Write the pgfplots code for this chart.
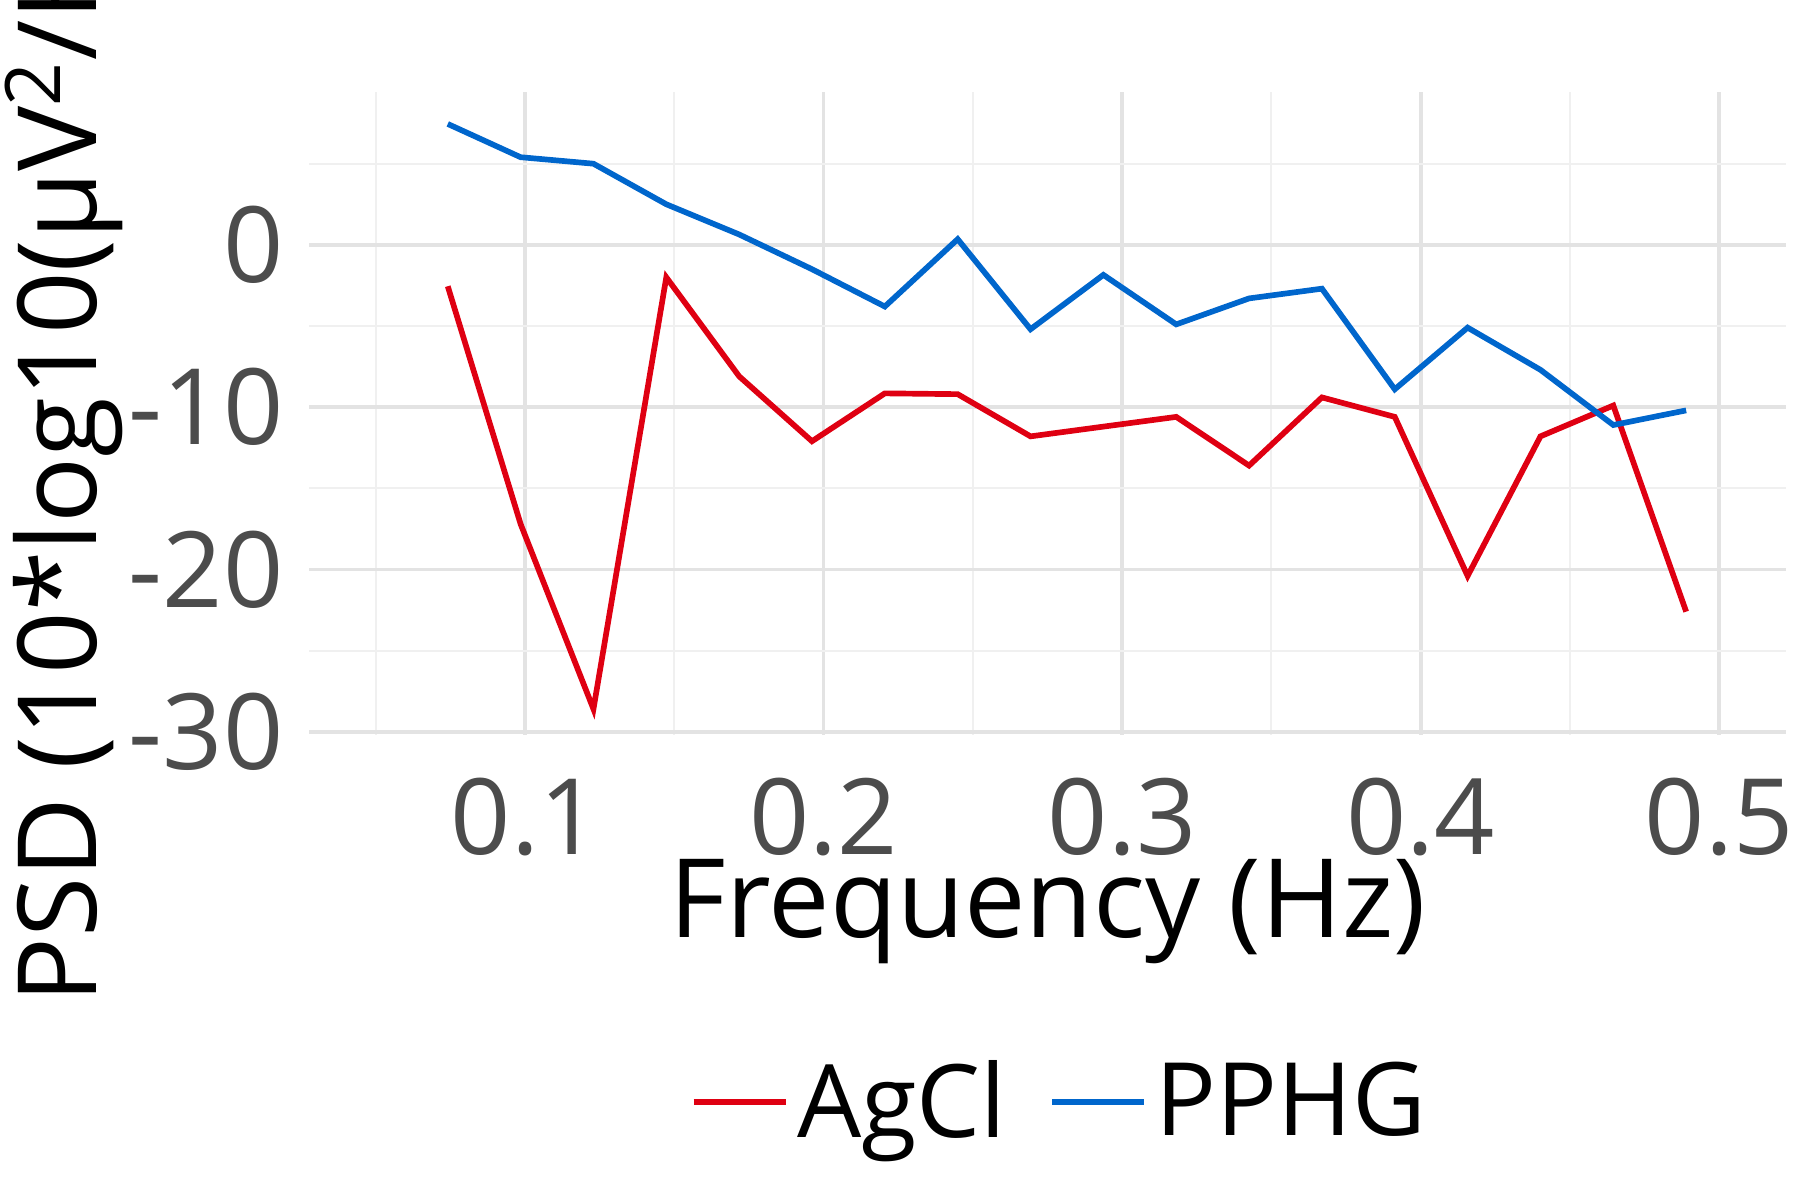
\documentclass[border=0pt]{standalone}
\usepackage{pgfplots}
\pgfplotsset{compat=1.18}
\usepackage{fontspec}
\setmainfont{Open Sans}
\definecolor{cred}{HTML}{DF0012}
\definecolor{cblue}{HTML}{0066CC}
\begin{document}
\begin{tikzpicture}
\path[use as bounding box, clip] (0,0) rectangle (15.6cm,10.4cm);
\begin{axis}[
  at={(2.68cm,4.03cm)}, anchor=south west,
  scale only axis, width=12.8cm, height=5.57cm,
  xmin=0.0277, xmax=0.5224, ymin=-30.2, ymax=9.4,
  xtick={0.1,0.2,0.3,0.4,0.5}, ytick={-30,-20,-10,0},
  minor xtick={0.05,0.15,0.25,0.35,0.45}, minor ytick={-25,-15,-5,5},
  grid=both,
  major grid style={draw=black!11, line width=0.9pt},
  minor grid style={draw=black!6, line width=0.5pt},
  axis line style={draw=none}, tick style={draw=none},
  /pgf/number format/assume math mode=true,
  xticklabel style={font=\fontsize{26}{30}\selectfont, text=black!70, yshift=-0.25cm},
  yticklabel style={font=\fontsize{26}{30}\selectfont, text=black!70, xshift=-0.1cm},
  xticklabel={\pgfmathprintnumber[fixed,precision=1]{\tick}},
  yticklabel={\pgfmathprintnumber{\tick}},
  xlabel={Frequency (Hz)},
  ylabel={PSD (10*log10(µV\textsuperscript{2}/Hz))},
  xlabel style={font=\fontsize{27}{32}\selectfont, at={(axis description cs:0.5,-0.275)}, anchor=center},
  ylabel style={font=\fontsize{27}{32}\selectfont, at={(axis description cs:-0.166,0.5)}, anchor=center, rotate=0},
  legend style={draw=none, fill=none, font=\fontsize{25}{30}\selectfont,
    at={(axis description cs:0.51,-0.571)}, anchor=center,
    /tikz/every even column/.append style={column sep=0.3cm}},
  legend columns=2,
  legend image code/.code={\draw[#1, line width=1.5pt] (0cm,0cm) -- (0.8cm,0cm);},
]
\addplot[cred, line width=1.4pt] coordinates {
(0.0741,-2.55)(0.0985,-17.2)(0.1229,-28.6)(0.1473,-2.0)(0.1717,-8.1)(0.1961,-12.1)
(0.2205,-9.15)(0.2449,-9.2)(0.2693,-11.8)(0.2937,-11.2)(0.3181,-10.6)(0.3425,-13.6)
(0.3669,-9.4)(0.3913,-10.6)(0.4157,-20.4)(0.4401,-11.8)(0.4645,-9.9)(0.4889,-22.6)};
\addlegendentry{AgCl}
\addplot[cblue, line width=1.4pt] coordinates {
(0.0741,7.45)(0.0985,5.4)(0.1229,5.0)(0.1473,2.5)(0.1717,0.64)(0.1961,-1.5)
(0.2205,-3.8)(0.2449,0.35)(0.2693,-5.2)(0.2937,-1.85)(0.3181,-4.9)(0.3425,-3.3)
(0.3669,-2.7)(0.3913,-8.9)(0.4157,-5.1)(0.4401,-7.7)(0.4645,-11.1)(0.4889,-10.2)};
\addlegendentry{PPHG}
\end{axis}
\end{tikzpicture}
\end{document}
